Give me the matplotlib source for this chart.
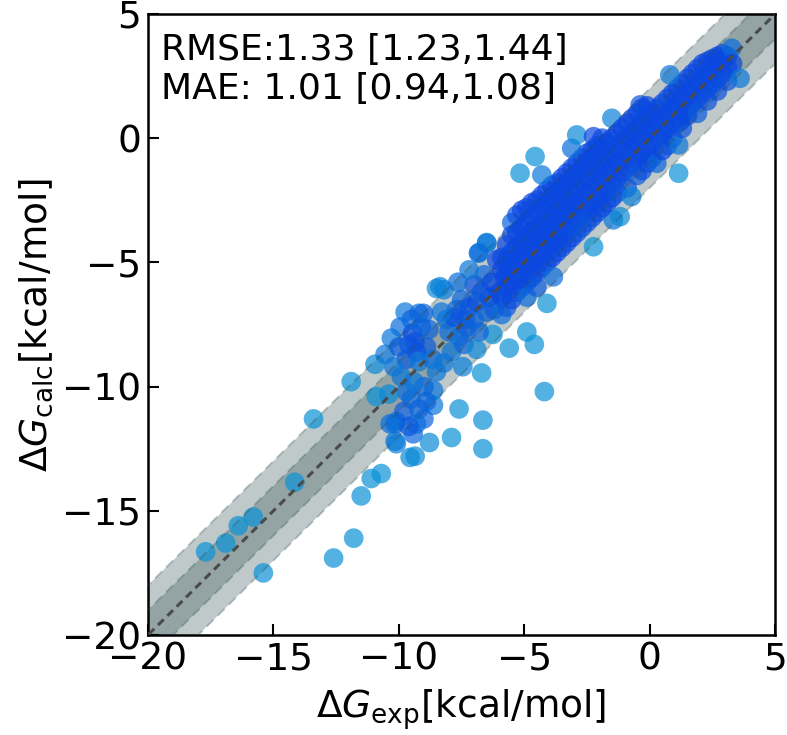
import numpy as np
import matplotlib

matplotlib.use("Agg")
import matplotlib.pyplot as plt
from matplotlib.colors import LinearSegmentedColormap

# (dG_exp, dG_calc) pairs, grouped by region
low_tail = [
    (-17.7, -16.65), (-16.9, -16.3), (-16.4, -15.6), (-15.8, -15.25), (-15.4, -17.5),
    (-14.15, -13.85), (-13.4, -11.3), (-12.6, -16.9), (-11.8, -16.1), (-11.5, -14.4),
    (-11.1, -13.7), (-10.7, -13.5), (-11.9, -9.8), (-10.9, -10.4),
]
mid_upper = [
    (-10.95, -9.1), (-10.55, -8.7), (-10.3, -8.05), (-9.95, -7.6), (-9.75, -7.0),
    (-9.2, -7.05), (-9.45, -7.85), (-8.9, -8.4), (-9.6, -8.3), (-9.3, -8.6),
    (-9.7, -8.9), (-9.1, -7.6), (-9.5, -7.3), (-8.8, -7.7), (-9.35, -8.2),
    (-10.0, -8.4), (-9.2, -9.0), (-8.65, -8.9), (-10.2, -9.2),
]
mid_lower = [
    (-10.15, -12.2), (-10.15, -11.5), (-10.1, -11.4), (-10.35, -11.5), (-10.1, -12.3),
    (-9.35, -12.8), (-9.43, -11.9), (-8.78, -12.25), (-8.62, -10.75), (-8.62, -10.15),
    (-9.55, -12.85), (-9.8, -11.0), (-9.5, -10.5), (-9.2, -10.9), (-9.0, -11.3),
    (-9.3, -11.5), (-9.7, -10.2), (-9.0, -10.0), (-9.6, -11.6), (-8.9, -10.6),
    (-9.4, -9.8), (-9.9, -9.6), (-10.4, -10.3),
]
mid_right = [
    (-7.6, -10.9), (-7.9, -12.05), (-6.65, -11.35), (-6.65, -12.5), (-6.7, -9.45),
    (-7.45, -9.2), (-8.2, -9.05), (-8.5, -9.4), (-5.6, -8.45), (-4.6, -8.3),
    (-4.2, -10.2), (-6.25, -7.9), (-7.35, -7.3), (-4.9, -7.8),
]
band_b = [
    (-8.2, -6.1), (-8.5, -6.05), (-8.1, -7.3), (-7.7, -6.9), (-8.0, -7.8),
    (-7.8, -7.2), (-7.6, -8.0), (-7.5, -6.5), (-7.3, -7.6), (-7.2, -6.8),
    (-7.0, -7.3), (-7.0, -5.9), (-6.9, -6.6), (-6.8, -7.8), (-6.7, -6.2),
    (-6.6, -5.5), (-6.5, -7.0), (-6.4, -6.4), (-6.3, -5.8), (-6.2, -6.9),
    (-6.1, -4.9), (-6.0, -6.2), (-6.8, -4.6), (-6.5, -4.2), (-7.2, -5.3),
    (-7.9, -8.6), (-7.4, -8.3), (-6.9, -8.5), (-8.3, -7.0), (-7.65, -5.8),
    (-5.9, -7.1), (-5.8, -5.6),
]
band_c = [
    (-5.9, -6.4), (-5.9, -5.3), (-5.9, -4.8),
    (-5.7, -6.0), (-5.7, -5.5), (-5.7, -4.9), (-5.7, -4.3), (-5.7, -6.8),
    (-5.5, -5.8), (-5.5, -5.2), (-5.5, -4.6), (-5.5, -3.9), (-5.5, -6.5), (-5.5, -3.4),
    (-5.3, -5.6), (-5.3, -5.0), (-5.3, -4.4), (-5.3, -3.8), (-5.3, -6.2), (-5.3, -3.1),
    (-5.1, -5.4), (-5.1, -4.9), (-5.1, -4.2), (-5.1, -3.6), (-5.1, -6.0), (-5.1, -2.9), (-5.1, -4.6),
    (-4.9, -5.2), (-4.9, -4.6), (-4.9, -4.0), (-4.9, -3.4), (-4.9, -5.8), (-4.9, -2.8), (-4.9, -4.8), (-4.9, -6.4),
    (-4.7, -5.0), (-4.7, -4.4), (-4.7, -3.8), (-4.7, -3.2), (-4.7, -5.6), (-4.7, -2.6), (-4.7, -4.2),
    (-4.5, -4.8), (-4.5, -4.2), (-4.5, -3.6), (-4.5, -3.0), (-4.5, -5.4), (-4.5, -2.5), (-4.5, -4.0), (-4.5, -6.0),
    (-4.3, -4.6), (-4.3, -4.0), (-4.3, -3.4), (-4.3, -2.8), (-4.3, -5.2), (-4.3, -2.3), (-4.3, -3.8),
    (-4.1, -4.4), (-4.1, -3.8), (-4.1, -3.2), (-4.1, -2.6), (-4.1, -5.0), (-4.1, -2.1), (-4.1, -4.2), (-4.1, -6.65),
    (-3.9, -4.2), (-3.9, -3.6), (-3.9, -3.0), (-3.9, -2.4), (-3.9, -4.8), (-3.9, -1.9), (-3.9, -3.4),
    (-3.7, -4.0), (-3.7, -3.4), (-3.7, -2.8), (-3.7, -2.2), (-3.7, -4.6), (-3.7, -1.8), (-3.7, -3.8),
    (-3.5, -3.8), (-3.5, -3.2), (-3.5, -2.6), (-3.5, -2.0), (-3.5, -4.4), (-3.5, -1.6), (-3.5, -3.0),
    (-3.3, -3.6), (-3.3, -3.0), (-3.3, -2.4), (-3.3, -1.8), (-3.3, -4.2), (-3.3, -1.4), (-3.3, -2.8),
    (-3.1, -3.4), (-3.1, -2.8), (-3.1, -2.2), (-3.1, -1.6), (-3.1, -4.0), (-3.1, -1.2), (-3.1, -2.6),
    (-2.9, -3.2), (-2.9, -2.6), (-2.9, -2.0), (-2.9, -1.4), (-2.9, -3.8), (-2.9, -1.0),
    (-2.7, -3.0), (-2.7, -2.4), (-2.7, -1.8), (-2.7, -1.2), (-2.7, -3.6), (-2.7, -0.8),
    (-2.5, -2.8), (-2.5, -2.2), (-2.5, -1.6), (-2.5, -1.0), (-2.5, -3.4), (-2.5, -0.6),
    (-2.3, -2.6), (-2.3, -2.0), (-2.3, -1.4), (-2.3, -0.8), (-2.3, -3.2), (-2.3, -0.5),
    (-2.1, -2.4), (-2.1, -1.8), (-2.1, -1.2), (-2.1, -0.6), (-2.1, -3.0), (-2.1, -0.3),
    (-3.84, -5.58), (-2.24, -4.37), (-1.45, -3.29),
]
upper_outliers = [
    (-5.17, -1.41), (-4.57, -0.74), (-4.3, -1.48), (-3.11, -0.41), (-2.91, 0.13),
    (-2.24, 0.06), (-1.51, 0.8), (-0.38, 1.34), (-6.5, -4.23), (-6.83, -4.63),
    (-8.36, -5.98), (-9.02, -7.05),
]
band_d = [
    (-1.9, -2.2), (-1.9, -1.6), (-1.9, -1.0), (-1.9, -0.4), (-1.9, -2.8), (-1.9, 0.0),
    (-1.7, -2.0), (-1.7, -1.4), (-1.7, -0.8), (-1.7, -0.2), (-1.7, -2.6),
    (-1.5, -1.8), (-1.5, -1.2), (-1.5, -0.6), (-1.5, 0.0), (-1.5, -2.4),
    (-1.3, -1.6), (-1.3, -1.0), (-1.3, -0.4), (-1.3, 0.2), (-1.3, -2.2),
    (-1.1, -1.4), (-1.1, -0.8), (-1.1, -0.2), (-1.1, 0.4), (-1.18, -3.16),
    (-0.9, -1.2), (-0.9, -0.6), (-0.9, 0.0), (-0.9, 0.6), (-0.9, -2.0),
    (-0.7, -1.0), (-0.7, -0.4), (-0.7, 0.2), (-0.72, -2.35), (-0.7, 0.8),
    (-0.5, -0.8), (-0.5, -0.2), (-0.5, 0.4), (-0.5, -1.5), (-0.5, 1.0),
    (-0.3, -0.6), (-0.3, 0.0), (-0.3, 0.6), (-0.3, 1.2), (-0.3, -1.3),
    (-0.1, -0.4), (-0.1, 0.2), (-0.1, 0.8), (-0.1, -1.0), (-0.1, 1.3),
    (0.1, -0.2), (0.1, 0.4), (0.1, 1.0), (0.1, -0.8),
    (0.3, 0.0), (0.3, 0.6), (0.3, 1.2), (0.28, -1.01),
    (0.5, 0.2), (0.5, 0.8), (0.5, 1.4), (0.5, -0.5),
]
band_e = [
    (0.7, 0.4), (0.7, 1.0), (0.7, 1.6), (0.7, -0.3),
    (0.9, 0.6), (0.9, 1.2), (0.9, 1.8), (0.9, 0.0),
    (1.1, 0.8), (1.1, 1.4), (1.1, 2.0), (1.15, -0.27), (1.15, -1.41), (1.21, 0.66),
    (1.3, 1.0), (1.3, 1.6), (1.3, 2.2), (1.3, 0.4),
    (1.5, 1.2), (1.5, 1.8), (1.5, 2.4), (1.5, 0.9),
    (1.7, 1.4), (1.7, 2.0), (1.7, 2.6),
    (1.9, 1.6), (1.9, 2.2), (1.9, 2.8), (1.9, 1.0),
    (2.1, 1.8), (2.1, 2.4), (2.1, 3.0),
    (2.3, 2.0), (2.3, 2.6), (2.3, 3.1), (2.3, 1.5),
    (2.5, 2.2), (2.5, 2.8), (2.5, 3.2),
    (2.7, 2.4), (2.7, 3.0), (2.7, 3.3), (2.7, 1.9),
    (2.9, 2.6), (2.9, 3.1), (2.9, 3.4),
    (3.1, 2.8), (3.1, 3.3), (3.1, 2.3),
    (3.27, 3.62), (3.3, 3.0), (3.6, 2.41), (0.8, 2.55),
]

stats_text = "RMSE:1.33 [1.23,1.44]\nMAE: 1.01 [0.94,1.08]"
lim = (-20, 5)
ticks = [-20, -15, -10, -5, 0, 5]

points = np.array(low_tail + mid_upper + mid_lower + mid_right + band_b
                  + band_c + upper_outliers + band_d + band_e)
dg_exp, dg_calc = points[:, 0], points[:, 1]

# colour each point by how crowded its neighbourhood is
dist = np.hypot(dg_exp[:, None] - dg_exp[None, :], dg_calc[:, None] - dg_calc[None, :])
crowd = (dist < 0.8).sum(axis=1)
crowd = np.clip((crowd - 2) / 8.0, 0, 1)
cmap = LinearSegmentedColormap.from_list("blues", ["#0a92d6", "#0a48e0"])

fig = plt.figure(figsize=(7.87, 7.35), dpi=100)
ax = fig.add_axes([0.188, 0.136, 0.797, 0.845])

line = np.linspace(-25, 10, 50)
band_color = "darkslategray"
ax.fill_between(line, line - 2, line + 2, color=band_color, alpha=0.3, linewidth=0, zorder=1)
ax.fill_between(line, line - 1, line + 1, color=band_color, alpha=0.3, linewidth=0, zorder=1)

ax.scatter(dg_exp, dg_calc, s=200, c=crowd, cmap=cmap, vmin=0, vmax=1,
           alpha=0.7, linewidths=0, zorder=3)

# guide lines sit on top of the points, as in the reference
for off in (-2, -1, 1, 2):
    ax.plot(line, line + off, color=band_color, alpha=0.3, linewidth=1.4,
            linestyle="--", dashes=(5, 3), zorder=4)
ax.plot(line, line, color="#4a4a4a", linewidth=2.2, linestyle="--",
        dashes=(2.6, 1.7), zorder=5)

ax.set_xlim(*lim)
ax.set_ylim(*lim)
ax.set_xticks(ticks)
ax.set_yticks(ticks)
ax.tick_params(direction="in", length=8, width=1.5, labelsize=27, pad=5)
for spine in ax.spines.values():
    spine.set_linewidth(1.8)
ax.set_xlabel(r"$\Delta G_{\rm exp}$[kcal/mol]", fontsize=27, labelpad=7)
ax.set_ylabel(r"$\Delta G_{\rm calc}$[kcal/mol]", fontsize=27, labelpad=5)
ax.text(0.02, 0.97, stats_text, transform=ax.transAxes, fontsize=26,
        va="top", ha="left", linespacing=1.2)

fig.savefig("out.png", dpi=100)
